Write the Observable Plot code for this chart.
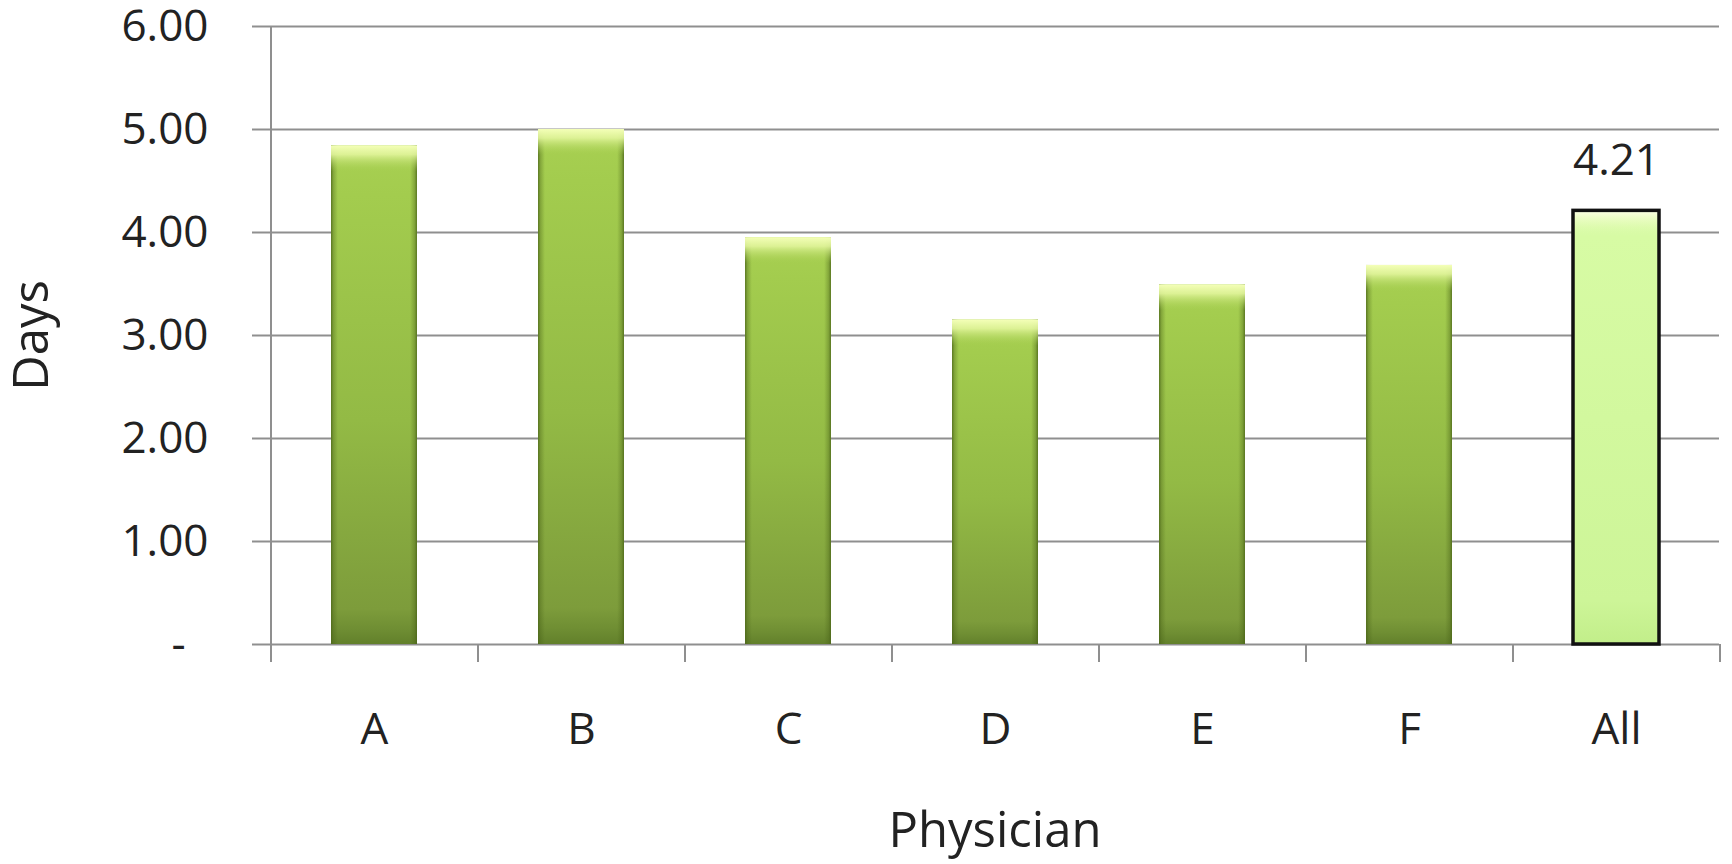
<!DOCTYPE html>
<html>
<head>
<meta charset="utf-8">
<script src="https://cdn.jsdelivr.net/npm/d3@7"></script>
<script src="https://cdn.jsdelivr.net/npm/@observablehq/plot@0.6"></script>
<style>
  html, body { margin: 0; padding: 0; background: #fff; }
  #chart { width: 1732px; height: 864px; }
</style>
</head>
<body>
<div id="chart"></div>
<script>
// ---- data ----
const physicians = ["A", "B", "C", "D", "E", "F", "All"];
const days = [4.84, 5.00, 3.95, 3.15, 3.49, 3.68, 4.21];
const yTicks = [0, 1, 2, 3, 4, 5, 6];
const highlighted = ["All"];
const xTitle = "Physician";
const yTitle = "Days";

// ---- layout ----
const W = 1732, H = 864, mL = 270, mR = 13, mT = 26, mB = 220;
const step = (W - mL - mR) / physicians.length;
const yMax = d3.max(yTicks);
const data = physicians.map((p, i) => ({physician: p, days: days[i]}));
const regular = data.filter(d => !highlighted.includes(d.physician));
const special = data.filter(d => highlighted.includes(d.physician));
const inner = physicians.slice(1);
const last = physicians[physicians.length - 1];
const fmt = d => d === 0 ? "-\u00a0\u00a0" : d.toFixed(2);
const gridColor = "#8f8f8f";
const textColor = "#222";

const chart = Plot.plot({
  width: W, height: H,
  marginLeft: mL, marginRight: mR, marginTop: mT, marginBottom: mB,
  style: {fontFamily: "'Open Sans', sans-serif", color: textColor, background: "#fff", overflow: "visible"},
  x: {domain: physicians, paddingInner: 0.585, paddingOuter: 0.2925, label: null},
  y: {domain: [0, yMax], label: null},
  marks: [
    Plot.ruleY(yTicks, {y: d => d, stroke: gridColor, strokeWidth: 2, insetLeft: -18}),
    // regular bars
    Plot.barY(regular, {x: "physician", y: "days", fill: "url(#gBar)"}),
    Plot.barY(regular, {x: "physician", y: "days", fill: "url(#gSide)"}),
    Plot.barY(regular, {x: "physician", y1: "days", y2: "days", insetBottom: -26, fill: "url(#gBevel)"}),
    // highlighted bar
    Plot.barY(special, {x: "physician", y: "days", fill: "url(#gAll)"}),
    Plot.barY(special, {x: "physician", y1: "days", y2: "days", insetBottom: -24, fill: "url(#gAllBevel)"}),
    Plot.barY(special, {x: "physician", y: "days", fill: "none", stroke: "#111", strokeWidth: 3.5}),
    Plot.text(special, {x: "physician", y: "days", text: d => d.days.toFixed(2), dy: -50, fontSize: 44, fill: textColor}),
    // axis line and category boundary ticks
    Plot.ruleX([physicians[0]], {x: d => d, y1: yMax, y2: 0, dx: -step / 2, insetBottom: -18, stroke: gridColor, strokeWidth: 2}),
    Plot.ruleX(inner, {x: d => d, y1: 0, y2: 0, dx: -step / 2, insetBottom: -18, stroke: gridColor, strokeWidth: 2}),
    Plot.ruleX([last], {x: d => d, y1: 0, y2: 0, dx: step / 2, insetBottom: -18, stroke: gridColor, strokeWidth: 2}),
    // axes
    Plot.axisY({ticks: yTicks, tickSize: 0, tickPadding: 62, tickFormat: fmt, fontSize: 44, fill: textColor, label: null}),
    Plot.axisX({tickSize: 0, tickPadding: 68, fontSize: 44, fill: textColor, label: null}),
    // titles
    Plot.text([yTitle], {text: d => d, frameAnchor: "left", textAnchor: "middle", lineAnchor: "middle", dx: -238, rotate: -90, fontSize: 49, fill: textColor}),
    Plot.text([xTitle], {text: d => d, frameAnchor: "bottom", textAnchor: "middle", lineAnchor: "middle", dy: 187, fontSize: 49, fill: textColor})
  ]
});

document.getElementById("chart").appendChild(chart);

// gradients for the bevelled bar look
const svg = d3.select(chart.tagName.toLowerCase() === "svg" ? chart : chart.querySelector("svg"));
const defs = svg.insert("defs", ":first-child");
function grad(id, vertical, stops) {
  const g = defs.append("linearGradient").attr("id", id)
    .attr("x1", 0).attr("y1", 0).attr("x2", vertical ? 0 : 1).attr("y2", vertical ? 1 : 0);
  stops.forEach(([o, c, a]) => g.append("stop").attr("offset", o).attr("stop-color", c).attr("stop-opacity", a ?? 1));
}
grad("gBar", true, [["0%", "#a8d052"], ["10%", "#a3cc4e"], ["55%", "#93ba45"], ["93%", "#7d9c3b"], ["97%", "#6f8e33"], ["100%", "#62802b"]]);
grad("gSide", false, [["0%", "#4a6418", 0.8], ["3%", "#4a6418", 0.35], ["8%", "#4a6418", 0], ["92%", "#4a6418", 0], ["97%", "#4a6418", 0.35], ["100%", "#4a6418", 0.8]]);
grad("gBevel", true, [["0%", "#f4ffb8", 1], ["35%", "#e2f59c", 0.9], ["100%", "#a8d052", 0]]);
grad("gAll", true, [["0%", "#e2fcb6"], ["6%", "#d7fba4"], ["90%", "#cdf598"], ["100%", "#c2ee8a"]]);
grad("gAllBevel", true, [["0%", "#fdffe8", 1], ["30%", "#f0fdcc", 0.8], ["100%", "#d7fba4", 0]]);
</script>
</body>
</html>
